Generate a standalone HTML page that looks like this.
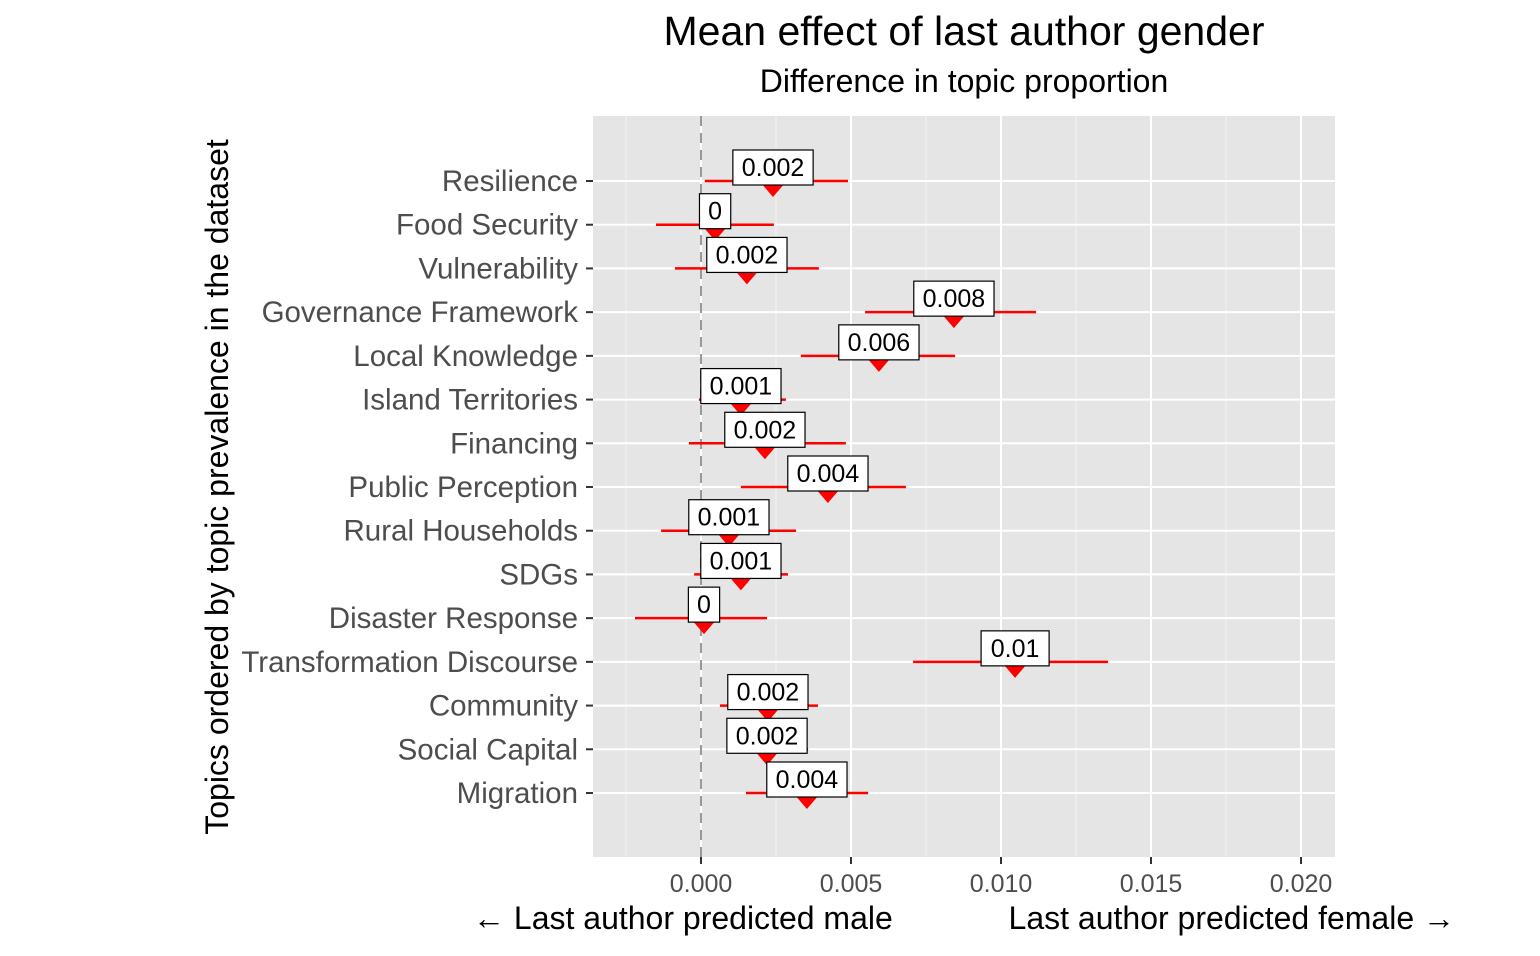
<!DOCTYPE html>
<html><head><meta charset="utf-8"><style>
body{margin:0;background:#fff;font-family:"Liberation Sans",Arial,sans-serif}
</style></head><body>
<svg id="c" width="1540" height="951" xmlns="http://www.w3.org/2000/svg" font-family="Liberation Sans, Arial, sans-serif">
<text x="964" y="45" font-size="41" text-anchor="middle">Mean effect of last author gender</text>
<text x="964" y="92" font-size="32" text-anchor="middle">Difference in topic proportion</text>
<rect x="593" y="116" width="742" height="741" fill="#e5e5e5"/>
<g id="grid"></g><g id="marks"></g><g id="axes"></g>
<text transform="translate(228,487) rotate(-90)" font-size="32" text-anchor="middle">Topics ordered by topic prevalence in the dataset</text>
<text x="473" y="929" font-size="32">← Last author predicted male</text>
<text x="1455" y="929" font-size="32" text-anchor="end">Last author predicted female →</text>
</svg>
<script>
const topics=["Resilience","Food Security","Vulnerability","Governance Framework","Local Knowledge","Island Territories","Financing","Public Perception","Rural Households","SDGs","Disaster Response","Transformation Discourse","Community","Social Capital","Migration"];
const estimates=[0.0024,0.00047,0.00153,0.00843,0.00593,0.00133,0.00213,0.00423,0.00093,0.00133,0.0001,0.01047,0.00223,0.0022,0.00353];
const lower=[0.00013,-0.0015,-0.00087,0.00547,0.00333,-0.00007,-0.0004,0.00133,-0.00133,-0.00023,-0.0022,0.00707,0.00063,0.0011,0.0015];
const upper=[0.0049,0.00243,0.00393,0.01117,0.00847,0.00283,0.00483,0.00683,0.00317,0.0029,0.0022,0.01357,0.0039,0.00357,0.00557];
const labels=["0.002","0","0.002","0.008","0.006","0.001","0.002","0.004","0.001","0.001","0","0.01","0.002","0.002","0.004"];
const xTicks=[0,0.005,0.01,0.015,0.02];
const xTickLabels=["0.000","0.005","0.010","0.015","0.020"];
const NS="http://www.w3.org/2000/svg";
const X=v=>701+v*30000;
const Y=i=>181+i*(612/14);
function mk(t,a,p){const e=document.createElementNS(NS,t);for(const k in a)e.setAttribute(k,a[k]);document.getElementById(p).appendChild(e);return e;}
for(let k=-0.0025;k<=0.0201;k+=0.005){const g=mk("line",{x1:X(k),x2:X(k),y1:116,y2:857,stroke:"#f2f2f2","stroke-width":1},"grid");

}
xTicks.forEach((t,i)=>{const g=mk("line",{x1:X(t),x2:X(t),y1:116,y2:857,stroke:"#fff","stroke-width":2},"grid");


const tk=mk("line",{x1:X(t),x2:X(t),y1:857,y2:864,stroke:"#333","stroke-width":2},"axes");


const tl=mk("text",{x:X(t),y:892,"font-size":25,"text-anchor":"middle",fill:"#4d4d4d"},"axes");tl.textContent=xTickLabels[i];

});
topics.forEach((t,i)=>{const y=Y(i);
const g=mk("line",{x1:593,x2:1335,y1:y,y2:y,stroke:"#fff","stroke-width":2},"grid");


const tk=mk("line",{x1:586,x2:593,y1:y,y2:y,stroke:"#333","stroke-width":2},"axes");


const tl=mk("text",{x:578,y:y+10,"font-size":29.5,"text-anchor":"end",fill:"#4d4d4d"},"axes");tl.textContent=t;

});
const z=mk("line",{x1:X(0),x2:X(0),y1:116,y2:857,stroke:"#999","stroke-width":2,"stroke-dasharray":"10,7"},"grid");


topics.forEach((t,i)=>{const y=Y(i),x=X(estimates[i]);
const l=mk("line",{x1:X(lower[i]),x2:X(upper[i]),y1:y,y2:y,stroke:"#ff0000","stroke-width":2.5},"marks");


const p=mk("polygon",{points:`${x-12},${y+2} ${x+12},${y+2} ${x},${y+16}`,fill:"#ff0000"},"marks");


const w=labels[i].length*12.25+19;
const r=mk("rect",{x:x-w/2,y:y-31,width:w,height:35,fill:"#fff",stroke:"#000","stroke-width":1.2},"marks");


const tx=mk("text",{x:x,y:y-5,"font-size":25,"text-anchor":"middle"},"marks");tx.textContent=labels[i];

});
</script>
</body></html>
